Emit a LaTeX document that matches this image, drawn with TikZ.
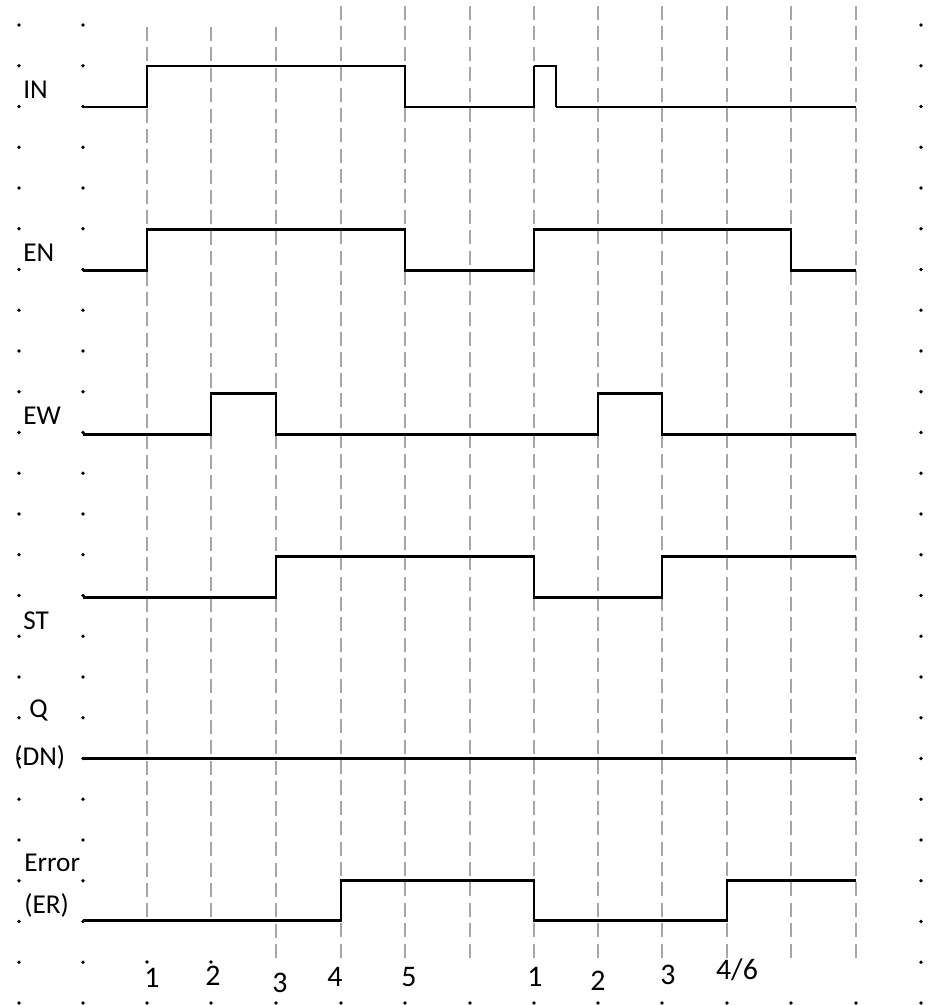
\documentclass[tikz,border=0pt]{standalone}
\usepackage{fontspec}
\setmainfont{Carlito}
\begin{document}
\begin{tikzpicture}[x=0.02cm,y=-0.02cm,
  sig/.style={line width=1.7pt,black,line join=miter},
  thinsig/.style={line width=0.9pt,black,line join=miter},
  grid/.style={draw=black!35,line width=1.2pt,dash pattern=on 8pt off 3.6pt},
  dotmark/.style={fill=black,draw=none},
  lbl/.style={anchor=west,inner sep=0pt,font=\fontsize{15.5}{17}\selectfont},
  num/.style={inner sep=0pt,font=\fontsize{17}{18}\selectfont}]
\useasboundingbox (0,0) rectangle (935,1005);
% dot grid
\foreach \r in {0,...,24}{
  \pgfmathsetmacro{\yy}{25+\r*40.75}
  \fill[dotmark] (19,\yy) circle (1.8);
  \fill[dotmark] (83,\yy) circle (1.8);
  \fill[dotmark] (921,\yy) circle (1.8);
}
\foreach \x in {147,211,276,341,405,470,534,598,662,727,791,856}{
  \fill[dotmark] (\x,1003) circle (1.8);
}
\fill[dotmark] (147,962) circle (1.8);
\fill[dotmark] (211,962) circle (1.8);
% dashed time lines
\foreach \x in {147,211}{\draw[grid] (\x,27) -- (\x,920);}
\draw[grid] (276,27) -- (276,960);
\foreach \x in {341,405,470,534,598,662,727,791,856}{\draw[grid] (\x,6) -- (\x,960);}
% signals
\draw[sig] (83,107) -- (147,107) -- (147,66) -- (405,66) -- (405,107) -- (534,107) -- (534,66);
\draw[thinsig] (534,66) -- (556,66) -- (556,107);
\draw[sig] (556,107) -- (856,107);
\draw[sig] (83,270) -- (147,270) -- (147,229) -- (405,229) -- (405,270) -- (534,270) -- (534,229) -- (791,229) -- (791,270) -- (856,270);
\draw[sig] (83,434) -- (211,434) -- (211,393) -- (276,393) -- (276,434) -- (598,434) -- (598,393) -- (662,393) -- (662,434) -- (856,434);
\draw[sig] (83,597) -- (276,597) -- (276,556) -- (534,556) -- (534,597) -- (662,597) -- (662,556) -- (856,556);
\draw[sig] (83,758) -- (856,758);
\draw[sig] (83,920) -- (341,920) -- (341,880) -- (534,880) -- (534,920) -- (727,920) -- (727,880) -- (856,880);
% labels
\node[lbl] (lin) at (23,90) {IN};
\node[lbl] (len) at (23,253) {EN};
\node[lbl] (lew) at (23,416) {EW};
\node[lbl] (lst) at (23,621) {ST};
\node[lbl] (lq) at (29,710) {Q};
\node[lbl] (ldn) at (14,757) {(DN)};
\node[lbl] (lerr) at (24,863) {Error};
\node[lbl] (ler) at (24,905) {(ER)};
% time numbers
\node[num] (t1) at (152,978) {1};
\node[num] (t2) at (213,976) {2};
\node[num] (t3) at (280,983) {3};
\node[num] (t4) at (335,977) {4};
\node[num] (t5) at (409,977) {5};
\node[num] (u1) at (535,977) {1};
\node[num] (u2) at (598,981) {2};
\node[num] (u3) at (668,975) {3};
\node[num] (u4) at (737,970) {4/6};
\end{tikzpicture}
\end{document}
